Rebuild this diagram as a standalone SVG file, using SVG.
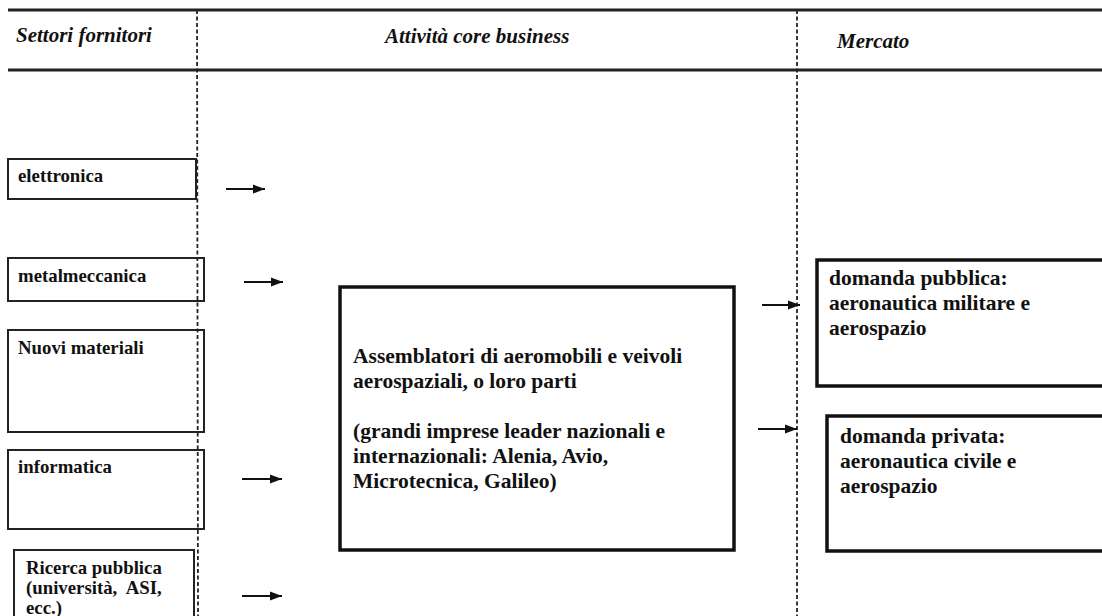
<svg xmlns="http://www.w3.org/2000/svg" width="1102" height="616" viewBox="0 0 1102 616">
<style>
.hdr{font-family:"Liberation Serif","Times New Roman",serif;font-weight:bold;font-style:italic;font-size:21px;fill:#111}
.lbl{font-family:"Liberation Serif","Times New Roman",serif;font-weight:bold;font-size:18.8px;fill:#111}
.big{font-family:"Liberation Serif","Times New Roman",serif;font-weight:bold;font-size:21.5px;fill:#111}
.thin{fill:#fff;stroke:#222;stroke-width:2}
.thick{fill:#fff;stroke:#111;stroke-width:3.5}
.rule{stroke:#222;stroke-width:3}
.dash{stroke:#222;stroke-width:1.8;stroke-dasharray:4 2.5}
.arr{stroke:#111;stroke-width:1.8;marker-end:url(#ah)}
</style>
<defs>
<marker id="ah" markerUnits="userSpaceOnUse" markerWidth="14" markerHeight="12" refX="12" refY="6" orient="auto">
<path d="M0,1.5 L12,6 L0,10.5 Z" fill="#111"/>
</marker>
</defs>
<rect width="1102" height="616" fill="#fff"/>
<g id="header">
<line class="rule" x1="8" y1="10" x2="1102" y2="10"/>
<line class="rule" x1="8" y1="70" x2="1102" y2="70"/>
<text class="hdr" x="16" y="42">Settori fornitori</text>
<text class="hdr" x="385" y="43">Attività core business</text>
<text class="hdr" x="837" y="48">Mercato</text>
</g>
<g id="n-elettronica">
<rect class="thin" x="8" y="159" width="188" height="40"/>
<text class="lbl" x="18" y="182">elettronica</text>
</g>
<g id="n-metalmeccanica">
<rect class="thin" x="8" y="258" width="196" height="43"/>
<text class="lbl" x="18" y="282">metalmeccanica</text>
</g>
<g id="n-nuovi">
<rect class="thin" x="8" y="330" width="196" height="102"/>
<text class="lbl" x="18" y="354">Nuovi materiali</text>
</g>
<g id="n-informatica">
<rect class="thin" x="8" y="450" width="196" height="79"/>
<text class="lbl" x="18" y="473">informatica</text>
</g>
<g id="n-ricerca">
<rect class="thin" x="14" y="550" width="180" height="80"/>
<text class="lbl" x="26" y="574">Ricerca pubblica</text>
<text class="lbl" x="26" y="594" xml:space="preserve">(università,  ASI,</text>
<text class="lbl" x="26" y="614">ecc.)</text>
</g>
<g id="n-assemblatori">
<rect class="thick" x="340" y="287" width="394" height="263"/>
<text class="big" x="353" y="363">Assemblatori di aeromobili e veivoli</text>
<text class="big" x="353" y="388">aerospaziali, o loro parti</text>
<text class="big" x="353" y="438">(grandi imprese leader nazionali e</text>
<text class="big" x="353" y="463">internazionali: Alenia, Avio,</text>
<text class="big" x="353" y="488">Microtecnica, Galileo)</text>
</g>
<g id="n-pubblica">
<path class="thick" d="M1104,260 H817 V386 H1104" fill="#fff"/>
<text class="big" x="829" y="285">domanda pubblica:</text>
<text class="big" x="829" y="310">aeronautica militare e</text>
<text class="big" x="829" y="335">aerospazio</text>
</g>
<g id="n-privata">
<path class="thick" d="M1104,416 H827 V551 H1104" fill="#fff"/>
<text class="big" x="840" y="443">domanda privata:</text>
<text class="big" x="840" y="468">aeronautica civile e</text>
<text class="big" x="840" y="493">aerospazio</text>
</g>
<g id="connectors">
<line class="dash" x1="197" y1="10" x2="198" y2="616"/>
<line class="dash" x1="797" y1="10" x2="797" y2="616"/>
<line class="arr" x1="226" y1="189" x2="265" y2="189"/>
<line class="arr" x1="244" y1="282" x2="283" y2="282"/>
<line class="arr" x1="242" y1="479" x2="282" y2="479"/>
<line class="arr" x1="242" y1="596" x2="282" y2="596"/>
<line class="arr" x1="762" y1="305" x2="800" y2="305"/>
<line class="arr" x1="758" y1="429" x2="797" y2="429"/>
</g>
</svg>
